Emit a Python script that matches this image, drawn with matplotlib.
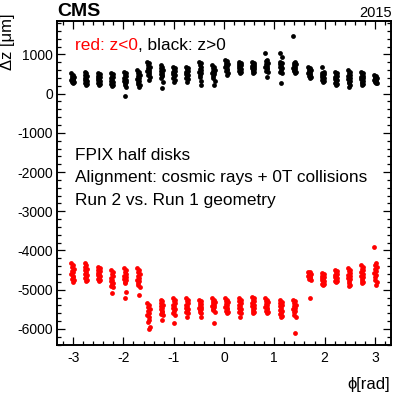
import numpy as np
import matplotlib
matplotlib.use("Agg")
import matplotlib.pyplot as plt

plt.rcParams['font.family'] = ['Liberation Sans', 'DejaVu Sans']
plt.rcParams['axes.unicode_minus'] = False

# blade centres in phi [rad]
blade_phi = [-3.0107, -2.7489, -2.4871, -2.2253, -1.9635, -1.7017,
             -1.50, -1.24, -0.995, -0.735, -0.47, -0.21,
             0.05, 0.315, 0.58, 0.845, 1.13, 1.40,
             1.7017, 1.9635, 2.2253, 2.4871, 2.7489, 3.0107]

# small phi offsets of the modules within one blade
module_dphi = [-0.022, 0.015, -0.008, 0.022, -0.016, 0.008,
               -0.022, 0.016, 0.0, -0.012, 0.022, 0.004]

# delta z [um] of modules, z>0 side (black)
dz_pos = [
    [515, 480, 455, 430, 410, 385, 360, 340, 320, 300, 285, 265],
    [560, 520, 480, 445, 410, 380, 350, 320, 290, 260, 240, 220],
    [530, 495, 460, 430, 400, 370, 345, 320, 295, 270, 245, 220],
    [530, 490, 450, 420, 390, 360, 330, 300, 275, 250, 225, 205],
    [560, 520, 480, 440, 400, 360, 330, 300, 265, 230, 180, -50],
    [600, 560, 520, 480, 440, 400, 370, 330, 290, 250, 210, 180],
    [815, 770, 730, 690, 650, 610, 580, 550, 510, 470, 420, 350],
    [730, 690, 650, 610, 570, 530, 500, 470, 440, 400, 300, 145],
    [690, 650, 620, 590, 560, 530, 500, 470, 440, 400, 350, 305],
    [690, 655, 620, 590, 560, 530, 500, 470, 440, 410, 370, 305],
    [815, 770, 720, 680, 640, 600, 560, 520, 480, 420, 330, 220],
    [730, 690, 650, 610, 580, 550, 520, 490, 450, 400, 310, 220],
    [860, 820, 790, 760, 730, 700, 670, 640, 610, 570, 520, 475],
    [815, 790, 760, 740, 715, 690, 665, 640, 610, 580, 550, 520],
    [815, 785, 760, 735, 710, 685, 660, 635, 605, 575, 545, 520],
    [1030, 860, 820, 780, 745, 710, 680, 650, 620, 590, 560, 434],
    [1030, 945, 815, 780, 745, 710, 680, 650, 610, 560, 520, 280],
    [1470, 815, 780, 750, 720, 690, 660, 630, 600, 570, 545, 520],
    [690, 660, 630, 600, 575, 550, 525, 500, 470, 445, 415, 390],
    [690, 560, 530, 500, 475, 450, 425, 400, 375, 350, 325, 305],
    [560, 525, 490, 460, 430, 400, 370, 340, 310, 280, 250, 220],
    [600, 560, 520, 480, 440, 400, 365, 330, 295, 260, 220, 180],
    [560, 525, 490, 455, 425, 395, 365, 335, 305, 275, 245, 220],
    [475, 450, 430, 410, 390, 370, 350, 330, 310, 295, 280, 265],
]

# delta z [um] of modules, z<0 side (red)
dz_neg = [
    [-4320, -4370, -4420, -4470, -4520, -4560, -4600, -4640, -4680, -4720, -4760, -4800],
    [-4320, -4365, -4410, -4460, -4510, -4550, -4590, -4630, -4670, -4710, -4750, -4790],
    [-4410, -4450, -4490, -4530, -4570, -4600, -4630, -4660, -4690, -4720, -4745, -4770],
    [-4500, -4550, -4600, -4650, -4700, -4740, -4780, -4820, -4860, -4900, -4920, -5090],
    [-4450, -4500, -4550, -4600, -4640, -4680, -4720, -4760, -4800, -4840, -5050, -5220],
    [-4450, -4500, -4550, -4600, -4650, -4700, -4740, -4780, -4830, -4880, -4920, -5135],
    [-5350, -5400, -5450, -5500, -5550, -5600, -5650, -5700, -5760, -5815, -5960, -6010],
    [-5265, -5300, -5340, -5380, -5420, -5460, -5500, -5540, -5580, -5620, -5645, -5775],
    [-5220, -5260, -5300, -5340, -5380, -5420, -5460, -5500, -5550, -5600, -5645, -5840],
    [-5220, -5260, -5300, -5340, -5380, -5420, -5460, -5500, -5540, -5570, -5600, -5690],
    [-5265, -5300, -5335, -5370, -5400, -5430, -5460, -5490, -5530, -5570, -5600, -5690],
    [-5220, -5255, -5290, -5320, -5350, -5380, -5410, -5440, -5480, -5520, -5560, -5840],
    [-5220, -5255, -5290, -5325, -5360, -5395, -5430, -5465, -5500, -5540, -5570, -5600],
    [-5220, -5260, -5300, -5340, -5380, -5420, -5460, -5500, -5540, -5570, -5600, -5690],
    [-5180, -5220, -5260, -5300, -5340, -5380, -5420, -5460, -5500, -5540, -5570, -5600],
    [-5220, -5255, -5290, -5325, -5360, -5395, -5430, -5465, -5500, -5540, -5570, -5600],
    [-5265, -5305, -5345, -5385, -5425, -5465, -5505, -5545, -5585, -5625, -5660, -5690],
    [-5265, -5300, -5340, -5380, -5420, -5460, -5500, -5540, -5580, -5645, -5690, -6100],
    [-4540, -4560, -4580, -4600, -4620, -4640, -4660, -4680, -4700, -4730, -4750, -5205],
    [-4580, -4610, -4640, -4670, -4700, -4730, -4760, -4790, -4820, -4850, -4865, -4880],
    [-4500, -4530, -4560, -4590, -4620, -4650, -4680, -4710, -4740, -4770, -4785, -4800],
    [-4455, -4495, -4535, -4575, -4615, -4655, -4695, -4735, -4780, -4830, -4870, -4905],
    [-4370, -4415, -4460, -4505, -4550, -4595, -4640, -4685, -4730, -4775, -4810, -4840],
    [-3915, -4330, -4380, -4430, -4480, -4530, -4580, -4630, -4680, -4740, -4810, -4880],
]

W, H = 395, 394
fig = plt.figure(figsize=(W / 100, H / 100), dpi=100)
L, R, T, B = 57, 391, 20.7, 345
ax = fig.add_axes([L / W, 1 - B / H, (R - L) / W, (B - T) / H])

for side, color in ((dz_pos, 'black'), (dz_neg, 'red')):
    xs, ys = [], []
    for phi0, vals in zip(blade_phi, side):
        for d, v in zip(module_dphi, vals):
            xs.append(phi0 + d)
            ys.append(v)
    ax.scatter(xs, ys, s=12, c=color, marker='o', linewidths=0)

ax.set_xlim(-3.32, 3.32)
ax.set_ylim(-6410, 1860)
ax.set_xticks([-3, -2, -1, 0, 1, 2, 3])
ax.set_xticks(np.arange(-3.2, 3.3, 0.2), minor=True)
ax.set_yticks(np.arange(-6000, 1001, 1000))
ax.set_yticks(np.arange(-6400, 1801, 200), minor=True)
for sp in ax.spines.values():
    sp.set_linewidth(1.4)
ax.tick_params(which='both', direction='in', top=True, right=True, width=0.9)
ax.tick_params(which='major', length=6)
ax.tick_params(which='minor', length=3)
ax.tick_params(axis='x', labelsize=10, pad=4)
ax.tick_params(axis='y', labelsize=10, pad=3)

def fx(x):
    return x / W

def fy(y):
    return 1 - y / H

fs = 12.4
fig.text(fx(57), fy(16), 'CMS', fontsize=14, fontweight='bold', ha='left', va='baseline')
fig.text(fx(392), fy(17), '2015', fontsize=10.5, ha='right', va='baseline')
fig.text(fx(390), fy(389), 'ϕ[rad]', fontsize=12, ha='right', va='baseline')
fig.text(fx(8), fy(14), 'Δz [μm]', fontsize=12, rotation=90, ha='center', va='top')

t1 = fig.text(fx(75), fy(50), 'red: z<0', fontsize=fs, color='red', ha='left', va='baseline')
ax.annotate(', black: z>0', xy=(1, 0), xycoords=t1, fontsize=fs, color='black',
            ha='left', va='bottom')
fig.text(fx(75), fy(160), 'FPIX half disks', fontsize=fs, ha='left', va='baseline')
fig.text(fx(75), fy(182), 'Alignment: cosmic rays + 0T collisions', fontsize=fs, ha='left', va='baseline')
fig.text(fx(75), fy(205), 'Run 2 vs. Run 1 geometry', fontsize=fs, ha='left', va='baseline')

fig.savefig('out.png', dpi=100)
